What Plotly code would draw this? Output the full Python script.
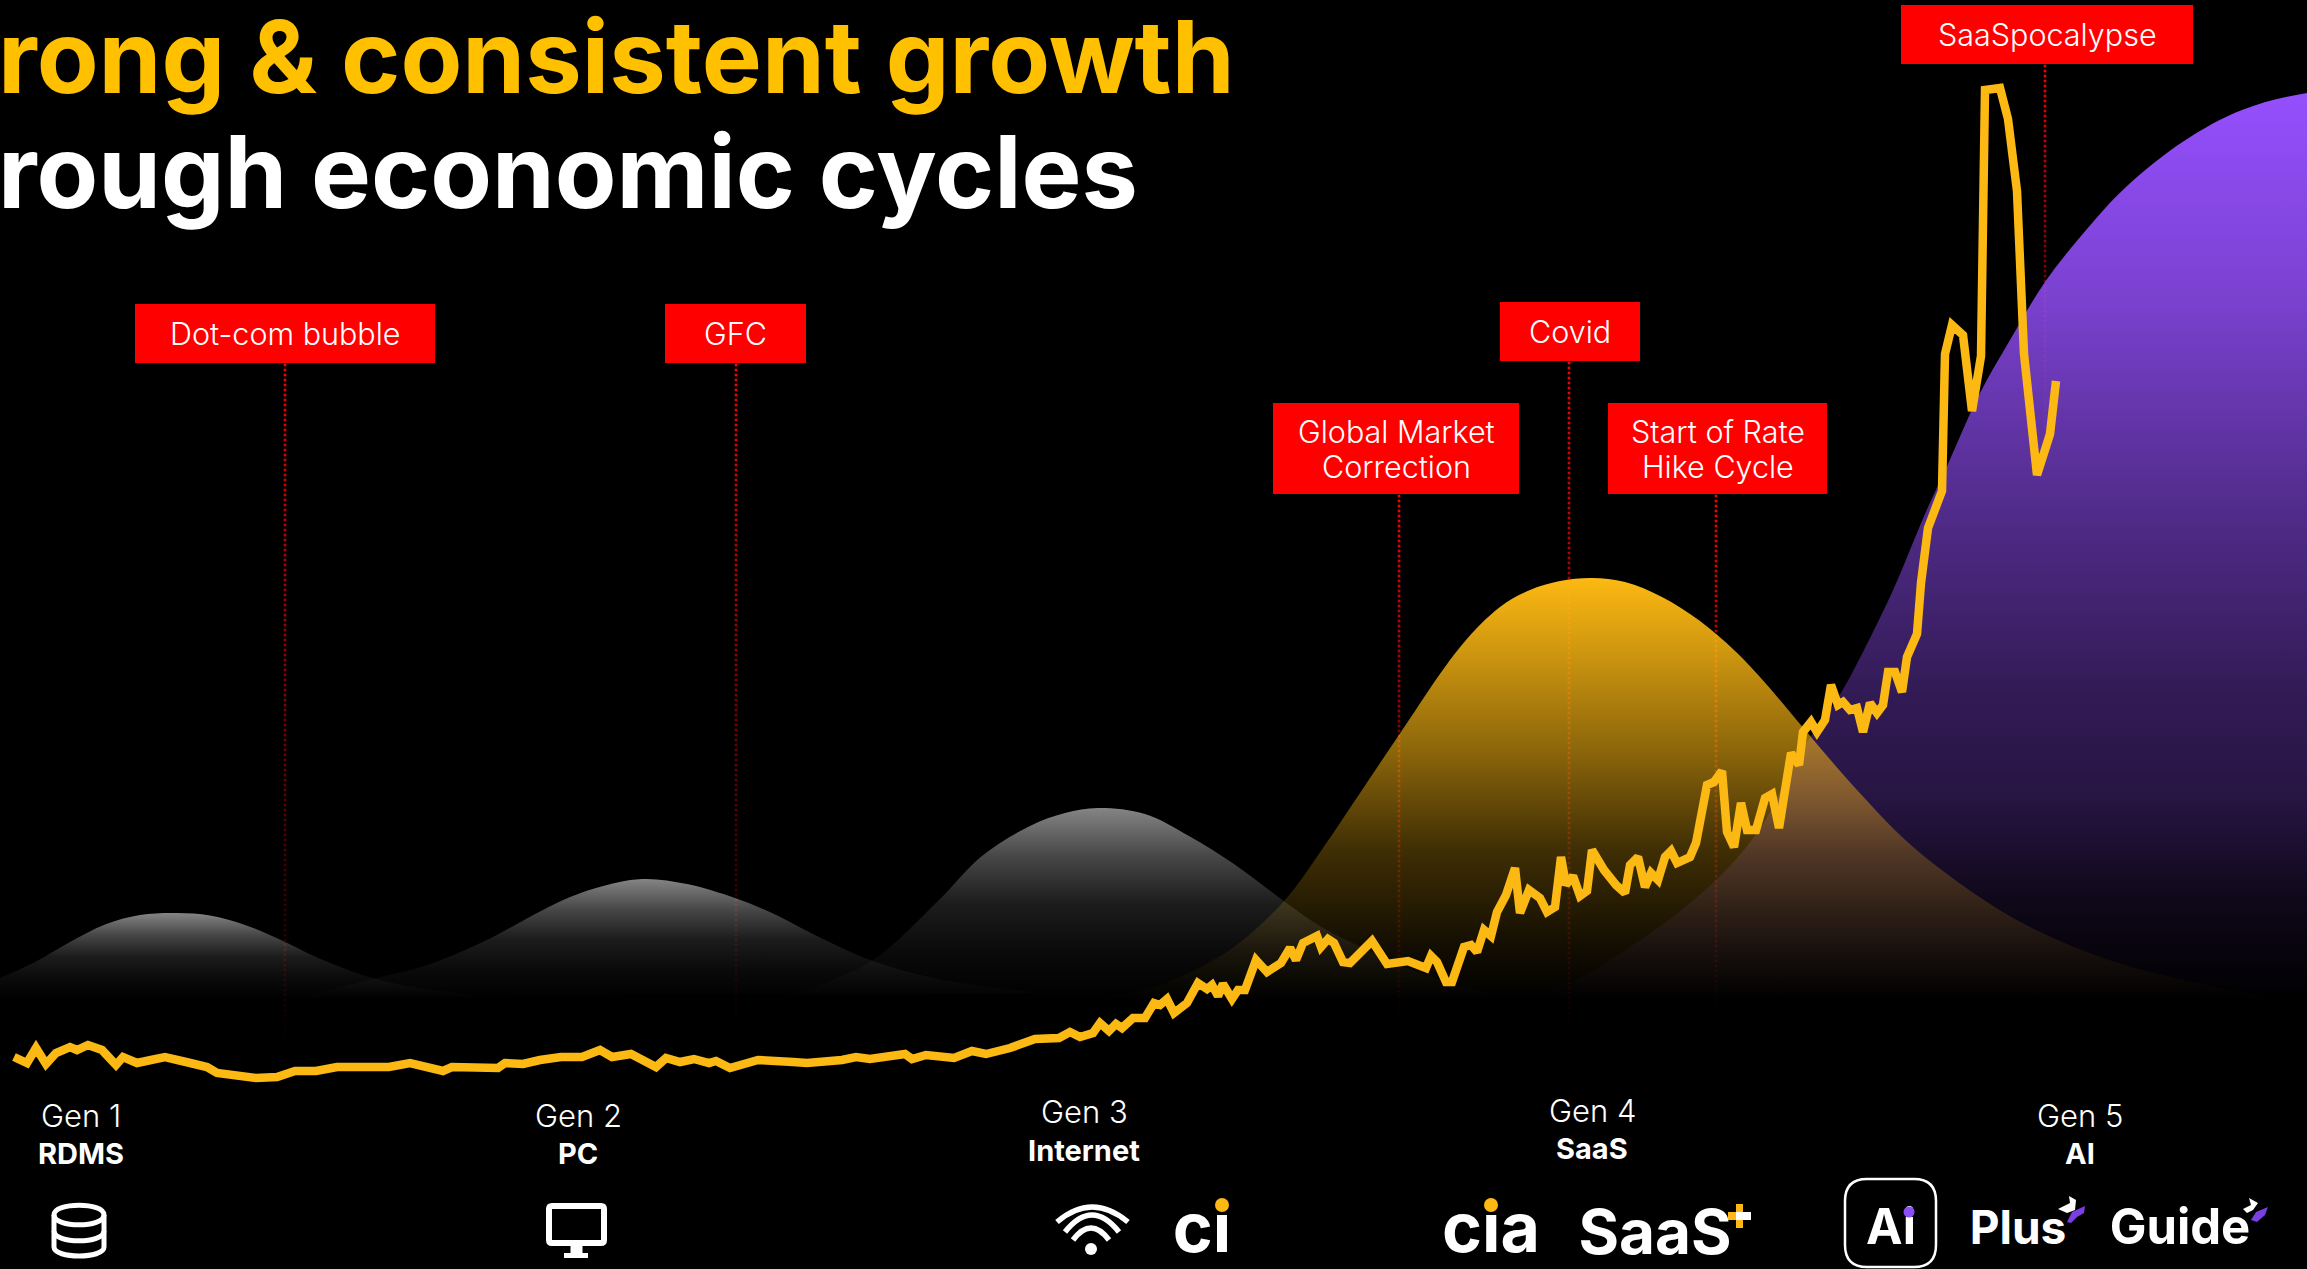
import plotly.graph_objects as go
import numpy as np

W, H = 2307, 1269

# ---------- gold index line ----------
line_x = [14,27,36,46,56,70,77,88,102,116,123,137,151,165,186,207,217,239,256,277,295,316,337,372,389,410,428,443,452,498,505,523,540,561,582,600,612,631,656,666,680,694,709,716,730,758,793,807,842,856,870,891,905,912,926,954,972,986,1010,1035,1059,1070,1080,1093,
          1100,1109,1116,1122,1133,1145,1154,1160,1167,1174,1187,1198,1207,1212,1218,1223,1232,1238,1245,1256,1267,1281,1290,1296,1303,1317,1321,1328,1334,1343,1350,1372,1387,1408,1426,1431,1437,1446,1452,1464,1471,1477,1484,1491,1497,1506,1515,1520,1529,1540,1547,1555,1561,1566,1573,1580,1587,1592,1604,1616,1625,1630,1638,1645,1651,1658,1665,1671,1677,1690,1696,1707,1714,1722,1727,1734,1741,1747,1756,1765,1772,1779,1785,
          1791,1799,1803,1811,1817,1825,1831,1838,1843,1850,1857,1863,1870,1877,1883,1888,1895,1902,1907,1917,1921,1928,1942,1945,1952,1963,1972,1981,1985,2000,2008,2017,2024,2037,2050,2056]
line_y = [1057,1063,1048,1064,1053,1047,1050,1045,1050,1065,1057,1063,1060,1057,1062,1067,1073,1075,1078,1077,1071,1071,1067,1067,1067,1063,1067,1071,1067,1068,1063,1064,1060,1057,1057,1050,1057,1054,1067,1058,1062,1059,1063,1061,1068,1060,1062,1063,1060,1057,1059,1057,1054,1059,1055,1058,1051,1054,1048,1039,1038,1032,1037,1033,
          1023,1031,1024,1028,1018,1018,1003,1005,999,1013,1003,983,989,985,996,984,999,990,990,960,972,963,948,960,943,936,947,939,943,962,963,941,964,961,968,956,962,982,982,947,945,952,930,936,912,895,868,913,890,898,912,907,857,885,876,896,891,850,870,885,893,865,857,887,873,880,857,851,863,857,843,785,782,771,832,847,803,830,830,798,794,828,790,
          753,765,732,722,732,720,685,705,702,710,708,732,703,713,705,672,672,692,657,634,583,528,491,354,325,335,411,356,90,88,119,191,354,475,434,381]

# ---------- generation waves ----------
gen1_x = [-60,0,35,70,105,140,177,210,245,281,316,351,372,407,456,491,540]
gen1_y = [1000,978,962,942,924.5,915,913,915.5,925,940,957,971,978,986,993,997,1000]
gen2_x = [302,372,421,456,491,526,561,596,642,687,735,772,807,842,870,912,961,1045]
gen2_y = [997,979,967,954,938,919,901,888,879,884,898,913,931,948,960,973,983,993]
gen3_x = [780,814,873,939,982,1030,1065,1098,1145,1189,1234,1285,1323,1363,1420,1490,1540]
gen3_y = [998,987,960,900,856,826,813,808,814,836,864,902,928,948,973,993,1000]
gen4_x = [1060,1145,1189,1234,1285,1323,1350,1399,1461,1500,1530,1560,1592,1625,1662,1700,1734,1760,1800,1857,1912,1984,2036,2109,2183,2257,2307]
gen4_y = [1000,990,973,947,900,848,808,735,646,607,590,581,578,582,597,621,650,677,724,790,846,900,930,960,980,995,1000]
gen5_x = [1480,1546,1636,1716,1761,1800,1838,1865,1894,1925,1948,1979,2010,2045,2087,2126,2184,2242,2307,2420,2420]
gen5_y = [1000,993,943,880,827,753,698,648,588,514,464,395,340,282,229,187,141,110,93,85,1000]

# ---------- labels ----------
event_labels = ["Dot-com bubble", "GFC", "Global Market<br>Correction", "Covid", "Start of Rate<br>Hike Cycle", "SaaSpocalypse"]
event_x = [285, 736, 1399, 1569, 1716, 2045]
event_end = [1060, 1037, 1028, 1043, 1017, 470]
box_left = [135, 665, 1273, 1500, 1608, 1901]
box_right = [435, 806, 1519, 1640, 1827, 2193]
box_top = [304, 304, 403, 302, 403, 5]
box_bottom = [363, 363, 494, 361, 494, 64]
gen_names = ["Gen 1", "Gen 2", "Gen 3", "Gen 4", "Gen 5"]
gen_themes = ["RDMS", "PC", "Internet", "SaaS", "AI"]
gen_x = [81, 578, 1084, 1592, 2080]
gen_y = [1115, 1115, 1111, 1110, 1115]
theme_y = [1153, 1153, 1150, 1148, 1153]

GOLD = "#FDB913"
LIGHT = "Inter"
fig = go.Figure()

for x0, top, end in zip(event_x, box_bottom, event_end):
    ys = np.arange(top + 2, end, 5.0)
    a = 1 - (ys - top) / (end - top)
    fig.add_trace(go.Scatter(x=[x0] * len(ys), y=ys, mode="markers", showlegend=False, hoverinfo="skip",
                             marker=dict(symbol="square", size=2.6, line_width=0,
                                         color=[f"rgba(255,0,0,{v:.3f})" for v in a])))

def wave(xs, ys, rgb, stops):
    top = min(ys)
    scale = [[p, f"rgba({rgb},{a})"] for p, a in stops]
    fig.add_trace(go.Scatter(x=xs, y=ys, mode="lines", fill="toself", showlegend=False, hoverinfo="skip",
                             line=dict(width=0, shape="spline", smoothing=1, color="rgba(0,0,0,0)"),
                             fillgradient=dict(type="vertical", colorscale=scale, start=top, stop=1000)))

wave(gen5_x, gen5_y, "150,80,255", [[0, 1], [.228, .82], [.449, .56], [.669, .33], [.779, .26], [.89, .1], [1, 0]])
wave(gen4_x, gen4_y, "253,185,19", [[0, 1], [.17, .82], [.41, .55], [.645, .25], [.88, .07], [1, 0]])
grey = [[0, .52], [.25, .28], [.5, .11], [.75, .04], [1, 0]]
wave(gen3_x, gen3_y, "255,255,255", grey)
wave(gen2_x, gen2_y, "255,255,255", grey)
wave(gen1_x, gen1_y, "255,255,255", grey)

fig.add_trace(go.Scatter(x=line_x, y=line_y, mode="lines", showlegend=False, hoverinfo="skip",
                         line=dict(color=GOLD, width=8.5, shape="linear")))

# logo words as scatter text so the coloured dots can sit above them
logo_text = ["ci", "cia", "SaaS", "Ai", "Plus", "Guide"]
logo_x = [1202, 1491, 1655, 1891, 2018, 2180]
logo_y = [1235, 1235, 1238, 1232, 1232, 1232]
logo_size = [68, 68, 62, 49, 46, 49]
fig.add_trace(go.Scatter(x=logo_x, y=logo_y, mode="text", text=logo_text, showlegend=False, hoverinfo="skip",
                         textposition="middle center",
                         textfont=dict(family="Inter", size=logo_size, color="#FFFFFF", weight=700)))

shapes = []
for l, r, t, b in zip(box_left, box_right, box_top, box_bottom):
    shapes.append(dict(type="rect", x0=l, x1=r, y0=t, y1=b, fillcolor="#FF0000", line_width=0, layer="above"))

def stroke(path, width=5, color="#FFFFFF"):
    shapes.append(dict(type="path", path=path, line=dict(color=color, width=width), layer="above"))
def solid(path, color="#FFFFFF"):
    shapes.append(dict(type="path", path=path, fillcolor=color, line_width=0, layer="above"))
def dot(cx, cy, r, color):
    shapes.append(dict(type="circle", x0=cx - r, x1=cx + r, y0=cy - r, y1=cy + r, fillcolor=color, line_width=0, layer="above"))

# database icon
stroke("M54,1215 C54,1202 104,1202 104,1215 C104,1228 54,1228 54,1215 Z")
stroke("M54,1215 L54,1247 C54,1259 104,1259 104,1247 L104,1215")
stroke("M54,1231 C54,1244 104,1244 104,1231")
# monitor icon
stroke("M552,1206 L601,1206 Q604,1206 604,1209 L604,1240 Q604,1243 601,1243 L552,1243 Q549,1243 549,1240 L549,1209 Q549,1206 552,1206 Z", 6)
solid("M570.5,1245 L582.5,1245 L582.5,1253 L588,1253 L588,1258 L564,1258 L564,1253 L570.5,1253 Z")
# wifi icon
stroke("M1057,1222 Q1092,1192 1128,1222", 5.5)
stroke("M1065,1232 Q1092,1198 1119,1232", 5.5)
stroke("M1073,1240 Q1091,1216 1109,1240", 5.5)
dot(1091, 1249, 6, "#FFFFFF")
# SaaS plus
solid("M1736,1204 L1743,1204 L1743,1228 L1736,1228 Z", GOLD)
solid("M1728,1212 L1736,1212 L1736,1220 L1728,1220 Z", GOLD)
solid("M1736,1212 L1751,1212 L1751,1220 L1736,1220 Z")
# Ai frame
stroke("M1867,1179 L1914,1179 Q1936,1179 1936,1201 L1936,1245 Q1936,1267 1914,1267 L1867,1267 Q1845,1267 1845,1245 L1845,1201 Q1845,1179 1867,1179 Z", 2.5)
# sparkles
solid("M2058,1209 L2070,1203 L2069,1196 L2076,1200 L2075,1210 L2067,1213 Z")
solid("M2067,1222 L2072,1212 L2085,1206 L2084,1213 L2077,1217 L2071,1223 Z", "#7A3FE0")
solid("M2243,1209 L2251,1205 L2249,1198 L2258,1203 L2253,1210 L2247,1213 Z")
solid("M2251,1220 L2256,1212 L2268,1207 L2265,1215 L2257,1222 Z", "#7A3FE0")
# logo dots
dot(1222, 1205, 7, GOLD)
dot(1491, 1205, 7, GOLD)
dot(1909, 1212, 5.5, "#8B4DF5")

ann = []
def text(s, x, y, size, color="#FFFFFF", weight=400, anchor="center", family=LIGHT, shift=0):
    ann.append(dict(text=s, x=x, y=y, xref="x", yref="y", showarrow=False, xanchor=anchor, yanchor="middle",
                    xshift=shift, font=dict(family=family, size=size, color=color, weight=weight), align="center"))

text("rong &amp; consistent growth", 0, 56, 101, "#FFC000", 700, "left", shift=-4)
text("rough economic cycles", 0, 171, 100.7, "#FFFFFF", 700, "left", shift=-4)
for s, l, r, t, b in zip(event_labels, box_left, box_right, box_top, box_bottom):
    parts = s.split("<br>")
    mid = (t + b) / 2
    for i, p in enumerate(parts):
        text(p, (l + r) / 2, mid + (i - (len(parts) - 1) / 2) * 35, 30.5, weight=300)
for s, th, x, y, y2 in zip(gen_names, gen_themes, gen_x, gen_y, theme_y):
    text(s, x, y, 31, weight=300)
    text(th, x, y2, 29, weight=700)

fig.update_layout(width=W, height=H, autosize=False, margin=dict(l=0, r=0, t=0, b=0, pad=0),
                  paper_bgcolor="#000000", plot_bgcolor="#000000", showlegend=False, hovermode=False,
                  xaxis=dict(range=[0, W], visible=False, fixedrange=True),
                  yaxis=dict(range=[H, 0], visible=False, fixedrange=True),
                  shapes=shapes, annotations=ann)
fig.write_html("out.html", config={"displayModeBar": False},
               post_script="document.body.style.margin='0';document.body.style.overflow='hidden';")
